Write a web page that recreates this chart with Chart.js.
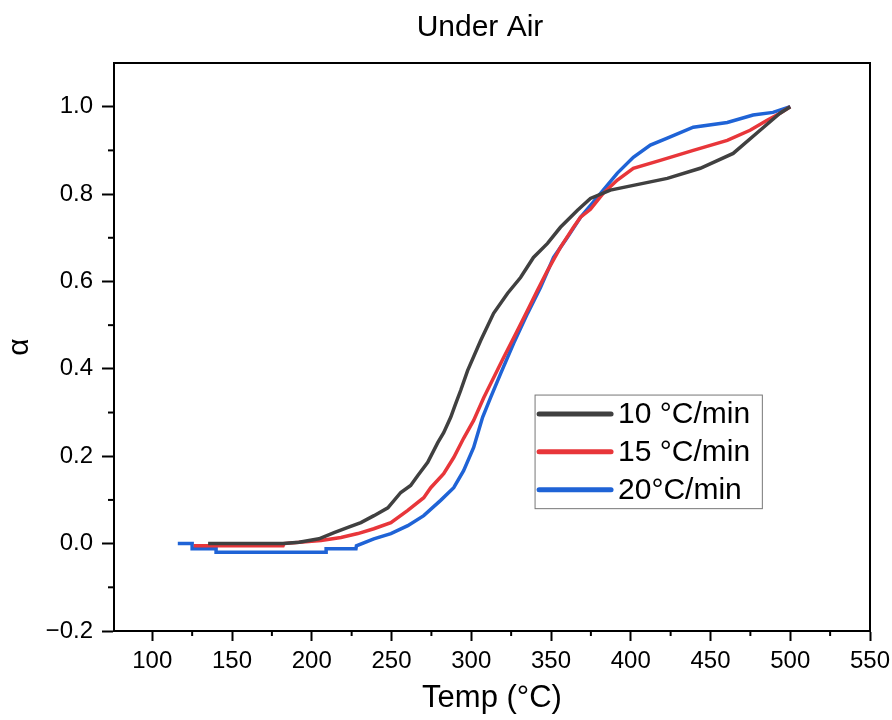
<!DOCTYPE html>
<html>
<head>
<meta charset="utf-8">
<script src="https://cdn.jsdelivr.net/npm/chart.js@4.4.0/dist/chart.umd.min.js"></script>
<style>
  html, body { margin: 0; padding: 0; background: #fff; }
</style>
</head>
<body>
<canvas id="chart" width="892" height="720"></canvas>
<script>
// values
const seriesNames = ["10 \u00B0C/min", "15 \u00B0C/min", "20\u00B0C/min"];
const seriesColors = ["#404040", "#e8363a", "#1f63d6"];

const temp10 = [135, 182, 192, 204.5, 214, 222.7, 230.8, 239, 247.7, 255.8, 262, 266.5, 272.7, 279, 282.7, 287.1, 290, 293.4, 297.7, 305.9, 314, 322.8, 330.9, 339, 347.8, 355.9, 366.6, 374.7, 387.2, 401.6, 422.9, 443.6, 464.2, 481.1, 493.6, 500];
const alpha10 = [0, 0, 0.003, 0.011, 0.025, 0.037, 0.048, 0.064, 0.082, 0.117, 0.133, 0.156, 0.186, 0.231, 0.254, 0.289, 0.318, 0.351, 0.396, 0.465, 0.527, 0.573, 0.609, 0.655, 0.687, 0.724, 0.763, 0.790, 0.809, 0.820, 0.836, 0.859, 0.893, 0.946, 0.985, 1.0];

const temp15 = [126, 182, 182.6, 205.8, 218.3, 228.9, 238.9, 249.6, 260.2, 270.2, 274.6, 282.7, 289, 295.2, 301.5, 307.8, 320.3, 329, 335.3, 341.5, 347.8, 355.9, 364.1, 368.5, 374.7, 382.8, 391.6, 401.6, 418.5, 439.2, 460.5, 474.8, 485.5, 493.6, 500];
const alpha15 = [-0.005, -0.005, 0, 0.007, 0.014, 0.023, 0.034, 0.048, 0.076, 0.105, 0.128, 0.160, 0.197, 0.241, 0.282, 0.334, 0.426, 0.488, 0.534, 0.580, 0.625, 0.678, 0.724, 0.747, 0.765, 0.802, 0.832, 0.859, 0.877, 0.900, 0.923, 0.946, 0.969, 0.985, 1.0];

const temp20 = [116, 125, 125, 140, 140, 209, 209, 227.7, 228, 238.9, 249.6, 260.2, 270.2, 280.8, 289, 295.2, 301.5, 307.1, 312.1, 318.4, 326.5, 335.3, 343.4, 351.6, 360.3, 368.5, 379.1, 391.6, 401.6, 412.3, 422.9, 439.2, 460.5, 476.7, 489.2, 500];
const alpha20 = [0, 0, -0.012, -0.012, -0.02, -0.02, -0.012, -0.012, -0.005, 0.011, 0.023, 0.041, 0.064, 0.099, 0.128, 0.167, 0.220, 0.289, 0.334, 0.389, 0.458, 0.527, 0.586, 0.655, 0.701, 0.747, 0.793, 0.848, 0.884, 0.912, 0.928, 0.953, 0.964, 0.981, 0.987, 1.0];

const xMinorTicks = [125, 175, 225, 275, 325, 375, 425, 475, 525];
const yMinorTicks = [-0.1, 0.1, 0.3, 0.5, 0.7, 0.9];

const FONT = "'Liberation Sans', Arial, sans-serif";

const toPoints = (xs, ys) => xs.map((x, i) => ({ x: x, y: ys[i] }));

// frame, minor ticks, title and the boxed legend inside the plot
const extras = {
    id: 'extras',
    afterDraw(chart) {
        const { ctx, chartArea, scales: { x, y } } = chart;
        ctx.save();
        ctx.strokeStyle = '#000';
        ctx.lineWidth = 2;
        ctx.strokeRect(chartArea.left, chartArea.top, chartArea.right - chartArea.left, chartArea.bottom - chartArea.top);
        xMinorTicks.forEach(v => {
            const px = x.getPixelForValue(v);
            ctx.beginPath();
            ctx.moveTo(px, chartArea.bottom);
            ctx.lineTo(px, chartArea.bottom + 5);
            ctx.stroke();
        });
        yMinorTicks.forEach(v => {
            const py = y.getPixelForValue(v);
            ctx.beginPath();
            ctx.moveTo(chartArea.left, py);
            ctx.lineTo(chartArea.left - 6, py);
            ctx.stroke();
        });

        // title
        ctx.fillStyle = '#000';
        ctx.font = "30px " + FONT;
        ctx.textAlign = 'center';
        ctx.textBaseline = 'middle';
        ctx.fillText('Under Air', (chartArea.left + chartArea.right) / 2 - 12, 28);

        // legend
        const bx0 = x.getPixelForValue(340), bx1 = x.getPixelForValue(482.5);
        const by0 = y.getPixelForValue(0.34), by1 = y.getPixelForValue(0.08);
        ctx.fillStyle = '#fff';
        ctx.fillRect(bx0, by0, bx1 - bx0, by1 - by0);
        ctx.strokeStyle = '#777';
        ctx.lineWidth = 1;
        ctx.strokeRect(bx0, by0, bx1 - bx0, by1 - by0);
        const rowH = (by1 - by0) / 3;
        seriesNames.forEach((name, i) => {
            const cy = by0 + rowH * (i + 0.5);
            ctx.strokeStyle = seriesColors[i];
            ctx.lineWidth = 5;
            ctx.lineCap = 'round';
            ctx.beginPath();
            ctx.moveTo(bx0 + 4, cy);
            ctx.lineTo(bx0 + 76, cy);
            ctx.stroke();
            ctx.fillStyle = '#000';
            ctx.font = "30px " + FONT;
            ctx.textAlign = 'left';
            ctx.fillText(name, bx0 + 83, cy + 1);
        });
        ctx.restore();
    }
};

const tickLabel = v => (v < -1e-9 ? '\u2212' : '') + Math.abs(v).toFixed(1);

new Chart(document.getElementById('chart'), {
    type: 'line',
    data: {
        datasets: [
            { label: seriesNames[0], data: toPoints(temp10, alpha10), borderColor: seriesColors[0] },
            { label: seriesNames[1], data: toPoints(temp15, alpha15), borderColor: seriesColors[1] },
            { label: seriesNames[2], data: toPoints(temp20, alpha20), borderColor: seriesColors[2] }
        ]
    },
    options: {
        responsive: false,
        animation: false,
        layout: { padding: { left: 0, right: 22, top: 63, bottom: 0 } },
        elements: {
            point: { radius: 0 },
            line: { borderWidth: 3.5, tension: 0, fill: false }
        },
        plugins: {
            legend: { display: false },
            tooltip: { enabled: false },
            title: { display: false }
        },
        scales: {
            x: {
                type: 'linear',
                position: 'bottom',
                min: 76,
                max: 550,
                ticks: { stepSize: 50, includeBounds: false, color: '#000', font: { family: FONT, size: 24 }, padding: 6, maxRotation: 0 },
                grid: { drawOnChartArea: false, drawTicks: true, tickLength: 10, tickWidth: 2, tickColor: '#000' },
                border: { display: true, color: '#000', width: 2 },
                title: { display: true, text: 'Temp (\u00B0C)', color: '#000', font: { family: FONT, size: 31 }, padding: { top: 0, bottom: 3 } },
                afterFit: s => { s.height = 89; s.paddingRight = 0; s.paddingLeft = 0; }
            },
            y: {
                type: 'linear',
                position: 'left',
                min: -0.2,
                max: 1.1,
                ticks: { stepSize: 0.2, includeBounds: false, color: '#000', font: { family: FONT, size: 24 }, padding: 9, callback: tickLabel },
                grid: { drawOnChartArea: false, drawTicks: true, tickLength: 12, tickWidth: 2, tickColor: '#000' },
                border: { display: true, color: '#000', width: 2 },
                title: { display: true, text: '\u03B1', color: '#000', font: { family: FONT, size: 30 }, padding: { top: 2, bottom: 0 } },
                afterFit: s => { s.width = 114; }
            }
        }
    },
    plugins: [extras]
});
</script>
</body>
</html>
